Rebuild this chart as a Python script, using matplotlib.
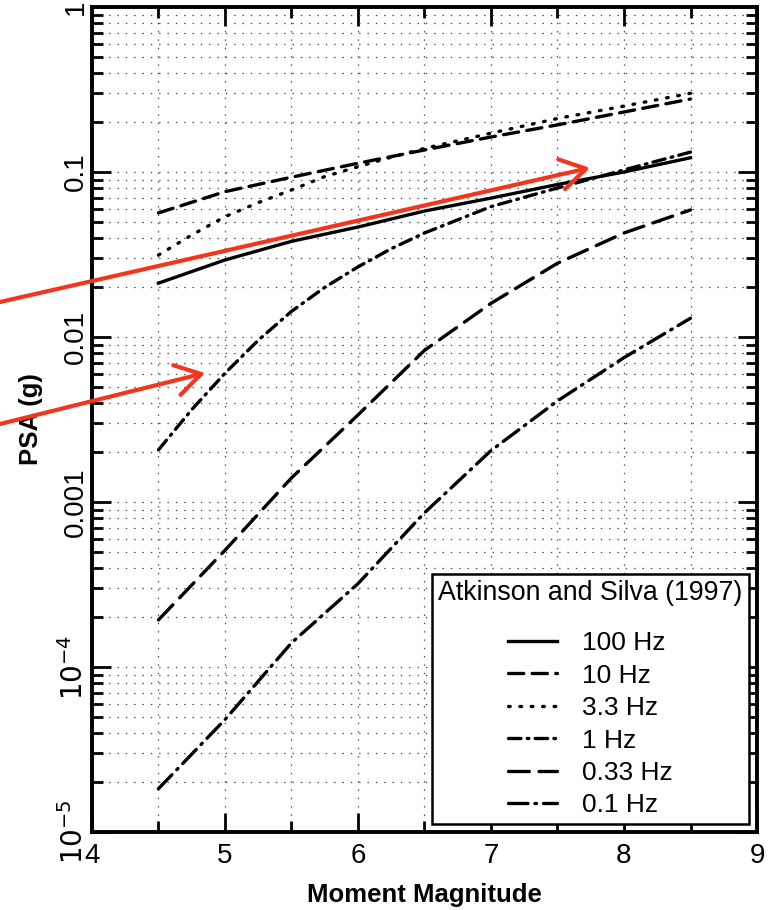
import numpy as np
import matplotlib
matplotlib.use('Agg')
import matplotlib.pyplot as plt
from matplotlib.ticker import FixedLocator, FixedFormatter, MultipleLocator, LogLocator, NullFormatter

plt.rcParams['font.family'] = ['Liberation Sans', 'DejaVu Sans']
plt.rcParams['lines.scale_dashes'] = False

# 数据：矩震级与各频率的伪谱加速度 (g)
magnitude = [4.5, 5.0, 5.5, 6.0, 6.5, 7.0, 7.5, 8.0, 8.5]
magnitude_fine = [4.5, 4.75, 5.0, 5.25, 5.5, 5.75, 6.0, 6.25, 6.5, 7.0, 7.5, 8.0, 8.5]
psa_100hz = [0.0212, 0.0293, 0.038, 0.0464, 0.058, 0.0695, 0.084, 0.100, 0.122]
psa_10hz = [0.0565, 0.076, 0.093, 0.113, 0.136, 0.163, 0.193, 0.231, 0.277]
psa_3_3hz = [0.0314, 0.0415, 0.0536, 0.0652, 0.0778, 0.0938, 0.1076, 0.123, 0.139,
             0.172, 0.211, 0.251, 0.300]
psa_1hz = [0.00207, 0.00363, 0.00603, 0.00955, 0.0143, 0.020, 0.0266, 0.0343, 0.0427,
           0.0617, 0.080, 0.103, 0.132]
psa_033hz = [1.93e-4, 5.1e-4, 1.4e-3, 3.37e-3, 8.3e-3, 0.016, 0.028, 0.0427, 0.0589]
psa_01hz = [1.83e-5, 4.8e-5, 1.4e-4, 3.2e-4, 8.6e-4, 0.00205, 0.0041, 0.0075, 0.013]

labels = ['100 Hz', '10 Hz', '3.3 Hz', '1 Hz', '0.33 Hz', '0.1 Hz']
ytick_vals = [1e-5, 1e-4, 1e-3, 1e-2, 1e-1, 1]
ytick_labels = ['$10^{-5}$', '$10^{-4}$', '0.001', '0.01', '0.1', '1']

fig = plt.figure(figsize=(7.69, 9.10), dpi=100)
ax = fig.add_axes([0.1196, 0.0857, 0.8648, 0.9066])

series = [(magnitude, psa_100hz), (magnitude, psa_10hz), (magnitude_fine, psa_3_3hz),
          (magnitude_fine, psa_1hz), (magnitude, psa_033hz), (magnitude, psa_01hz)]
dash_styles = [
    None,
    (11, 6),
    (1.2, 7),
    (9, 4.5, 1.2, 4.5),
    (15, 7),
    (14, 5, 1.2, 5),
]
lw = 2.4
for (xs, vals), lab, ds in zip(series, labels, dash_styles):
    line, = ax.plot(xs, vals, color='black', lw=lw, label=lab)
    if ds is not None:
        line.set_dashes(ds)
        line.set_dash_capstyle('round')

ax.set_yscale('log')
ax.set_xlim(4, 9)
ax.set_ylim(1e-5, 1)

ax.xaxis.set_major_locator(MultipleLocator(1))
ax.xaxis.set_minor_locator(MultipleLocator(0.5))
ax.yaxis.set_major_locator(FixedLocator(ytick_vals))
ax.yaxis.set_major_formatter(FixedFormatter(ytick_labels))
ax.yaxis.set_minor_locator(LogLocator(base=10, subs=np.arange(2, 10), numticks=20))
ax.yaxis.set_minor_formatter(NullFormatter())

# 网格（MATLAB风格的点线）
ax.grid(True, which='both', color='#444444', lw=0.9, linestyle=(0, (1, 5)))
ax.set_axisbelow(True)

ax.tick_params(which='both', direction='in', top=True, right=True, width=2)
ax.tick_params(which='major', length=14, labelsize=20, pad=8)
ax.tick_params(which='minor', length=8)
ax.tick_params(axis='y', which='major', labelrotation=90, pad=2)
for t in ax.get_yticklabels():
    t.set_va('center')

for sp in ax.spines.values():
    sp.set_linewidth(2.8)

ax.set_xlabel('Moment Magnitude', fontsize=18.5, fontweight='bold', labelpad=10)
ax.set_ylabel('PSA (g)', fontsize=18.5, fontweight='bold', labelpad=12)

leg = ax.legend(title='Atkinson and Silva (1997)', loc='lower right', fontsize=19,
                title_fontsize=19.3, fancybox=False, framealpha=1, edgecolor='black',
                handlelength=1.85, borderaxespad=0.3, labelspacing=0.32,
                borderpad=0.25, handletextpad=0.95)
leg.get_frame().set_linewidth(1.8)
leg._legend_box.sep = 18  # 标题与条目之间的间距

# 红色箭头
red = '#f2361e'
arrow_style = dict(arrowstyle='->,head_length=0.9,head_width=0.55', color=red,
                   lw=3, shrinkA=0, shrinkB=0, mutation_scale=20)
ax.annotate('', xy=(7.744, 0.106), xycoords='data', xytext=(0, 608),
            textcoords='figure pixels', annotation_clip=False, arrowprops=arrow_style)
ax.annotate('', xy=(4.85, 0.00605), xycoords='data', xytext=(0, 486),
            textcoords='figure pixels', annotation_clip=False, arrowprops=arrow_style)

plt.savefig('out.png', dpi=100)
